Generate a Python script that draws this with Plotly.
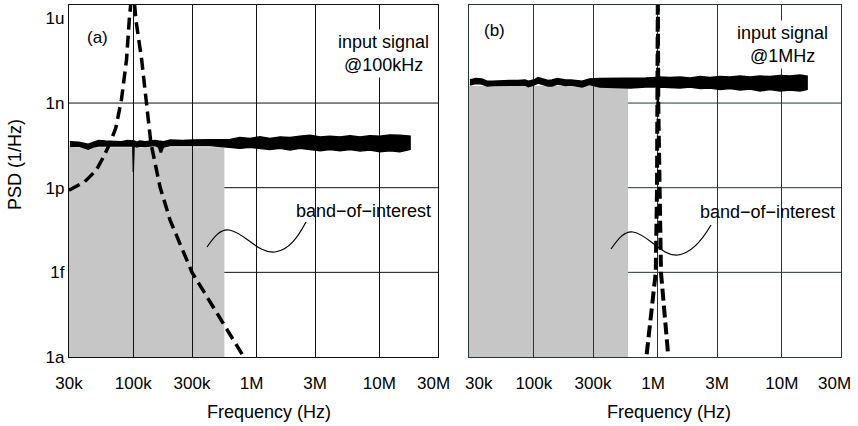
import plotly.graph_objects as go

# ---------------- data ----------------
x_tickvals = [3e4, 1e5, 3e5, 1e6, 3e6, 1e7, 3e7]
x_ticktext_a = ["30k", "100k", "300k", "1M\u00a0\u00a0", "3M", "10M", ""]
x_ticktext_b = ["", "100k", "300k", "1M\u00a0\u00a0", "3M", "10M", ""]
edge_label_a = "30M"
edge_label_b_left = "30k"
edge_label_b_right = "30M"
y_tickvals = [1e-18, 1e-15, 1e-12, 1e-9, 1e-6]
y_ticktext = ["1a", "1f", "1p", "1n", "1u"]
y_gridvals = [1e-15, 1e-12, 1e-9]

band_start = 3e4
band_edge_a = 5.5e5
band_top_a = 2.7e-11
band_edge_b = 5.75e5
band_top_b = 4.0e-9

# (a) measured output PSD envelope, input @100kHz
freq_a = [30.5e3, 36e3, 43e3, 47e3, 52e3, 59e3, 71e3, 80e3, 90e3, 97e3, 99e3, 100e3, 101.5e3,
          107e3, 113e3, 125e3, 137e3, 150e3, 160e3, 165e3, 170e3, 176e3, 200e3, 250e3, 306e3,
          420e3, 611e3, 736e3, 889e3, 1.07e6, 1.29e6, 1.56e6, 1.88e6, 2.26e6, 2.73e6, 3.30e6,
          3.97e6, 4.79e6, 5.78e6, 6.97e6, 8.40e6, 10.1e6, 12.2e6, 14.7e6, 17.8e6]
upper_a = [4.3e-11, 4.1e-11, 3.5e-11, 4.1e-11, 4.7e-11, 4.5e-11, 4.5e-11, 4.3e-11, 4.7e-11, 4.5e-11,
           4.5e-11, 4.5e-11, 4.5e-11, 4.1e-11, 4.5e-11, 4.3e-11, 4.5e-11, 4.7e-11, 4.5e-11, 4.5e-11,
           4.5e-11, 4.3e-11, 4.9e-11, 4.7e-11, 4.9e-11, 5.1e-11, 5.14e-11, 6.05e-11, 5.57e-11,
           6.35e-11, 5.57e-11, 6.35e-11, 6.05e-11, 6.73e-11, 7.3e-11, 6.35e-11, 6.73e-11, 6.35e-11,
           6.9e-11, 6.35e-11, 6.9e-11, 6.73e-11, 7.48e-11, 7.3e-11, 6.73e-11]
lower_a = [2.85e-11, 3.0e-11, 2.3e-11, 2.75e-11, 3.0e-11, 3.1e-11, 3.0e-11, 3.0e-11, 3.1e-11, 3.0e-11,
           3.0e-11, 3.6e-12, 3.0e-11, 2.75e-11, 3.0e-11, 2.85e-11, 3.0e-11, 3.1e-11, 2.75e-11, 1.83e-11,
           1.83e-11, 2.75e-11, 3.1e-11, 3.1e-11, 3.2e-11, 3.1e-11, 2.68e-11, 2.47e-11, 2.68e-11,
           2.47e-11, 2.27e-11, 2.47e-11, 2.15e-11, 2.47e-11, 2.27e-11, 2.03e-11, 2.27e-11, 2.03e-11,
           2.27e-11, 1.98e-11, 2.15e-11, 1.87e-11, 2.03e-11, 1.87e-11, 2.27e-11]

# (a) estimated input tone PSD (dashed)
tone_f_a = [30e3, 40e3, 50e3, 57e3, 64.6e3, 72e3, 80e3, 88e3, 92.7e3, 96e3, 100e3,
            105e3, 117e3, 128e3, 139e3, 165e3, 199e3, 300e3, 766e3]
tone_p_a = [8.2e-13, 1.58e-12, 4.2e-12, 1.2e-11, 3.8e-11, 1.3e-10, 1.28e-9, 3.35e-8, 8.8e-7, 4.5e-6, 1e-5,
            8.8e-7, 3.35e-8, 1.28e-9, 3.8e-11, 1.05e-12, 7.1e-14, 1.0e-15, 1.26e-18]

# (b) measured output PSD envelope, input @1MHz
freq_b = [30.5e3, 34e3, 38e3, 42e3, 47e3, 55e3, 64e3, 75e3, 85e3, 90e3, 100e3, 108e3, 120e3, 130e3,
          140e3, 155e3, 180e3, 200e3, 245e3, 280e3, 340e3, 450e3, 600e3, 800e3, 980e3, 1.0e6, 1.02e6,
          1.25e6, 1.51e6, 1.82e6, 2.19e6, 2.63e6, 3.17e6, 3.82e6, 4.60e6, 5.54e6, 6.67e6, 8.02e6,
          9.66e6, 11.6e6, 14.0e6, 16.0e6]
upper_b = [6.55e-9, 7.4e-9, 7.1e-9, 6.0e-9, 6.0e-9, 6.3e-9, 6.3e-9, 6.3e-9, 6.55e-9, 6.0e-9, 6.55e-9,
           8.0e-9, 6.8e-9, 6.3e-9, 6.55e-9, 7.4e-9, 6.55e-9, 6.55e-9, 6.0e-9, 7.1e-9, 7.4e-9, 7.4e-9,
           7.7e-9, 7.7e-9, 8.0e-9, 8.35e-9, 8.35e-9,
           8.03e-9, 8.37e-9, 7.71e-9, 8.72e-9, 8.03e-9, 8.72e-9, 8.37e-9, 9.08e-9, 8.37e-9, 9.08e-9,
           8.72e-9, 9.46e-9, 9.08e-9, 9.85e-9, 9.08e-9]
lower_b = [4.35e-9, 4.9e-9, 4.7e-9, 4.0e-9, 4.2e-9, 4.35e-9, 4.35e-9, 4.35e-9, 4.35e-9, 3.8e-9, 4.35e-9,
           5.1e-9, 4.35e-9, 4.0e-9, 4.0e-9, 4.7e-9, 4.2e-9, 4.35e-9, 3.7e-9, 4.5e-9, 3.7e-9, 3.55e-9,
           3.4e-9, 3.7e-9, 3.7e-9, 3.75e-10, 3.7e-9,
           3.55e-9, 3.41e-9, 3.70e-9, 3.27e-9, 3.41e-9, 3.02e-9, 3.27e-9, 2.90e-9, 3.14e-9, 2.67e-9,
           3.02e-9, 2.67e-9, 2.90e-9, 2.67e-9, 3.02e-9]

# (b) estimated input tone PSD (dashed)
tone_f_b = [813e3, 962e3, 985e3, 995e3, 1.0e6, 1.008e6, 1.025e6, 1.06e6, 1.21e6]
tone_p_b = [1.26e-18, 1.0e-15, 1.0e-12, 1.0e-9, 1e-5, 1.0e-9, 1.0e-12, 1.0e-15, 1.26e-18]

# ---------------- layout geometry ----------------
W, H = 858, 426
ML, MR, MT, MB = 69, 17, 5, 69
PW = W - ML - MR
PH = H - MT - MB


def px(x):
    return (x - ML) / PW


def py(y):
    return (H - MB - y) / PH


FONT = "Liberation Sans, Arial, sans-serif"
GRID_A = "#111111"
GRID_B = "#263636"
fig = go.Figure()


def envelope(f, up, lo, xa, ya):
    fig.add_trace(go.Scatter(
        x=f + f[::-1], y=up + lo[::-1], mode="lines", fill="toself",
        fillcolor="black", line=dict(color="black", width=1.4),
        xaxis=xa, yaxis=ya, showlegend=False, hoverinfo="skip"))


envelope(freq_a, upper_a, lower_a, "x", "y")
fig.add_trace(go.Scatter(x=tone_f_a, y=tone_p_a, mode="lines",
                         line=dict(color="black", width=3.5, dash="12px,6px"),
                         xaxis="x", yaxis="y", showlegend=False))
envelope(freq_b, upper_b, lower_b, "x2", "y2")
fig.add_trace(go.Scatter(x=tone_f_b, y=tone_p_b, mode="lines",
                         line=dict(color="black", width=4, dash="12px,5px"),
                         xaxis="x2", yaxis="y2", showlegend=False))

shapes = []
# band of interest
shapes.append(dict(type="rect", xref="x", yref="y", x0=band_start, x1=band_edge_a,
                   y0=1e-18, y1=band_top_a, fillcolor="#c6c6c6", line=dict(width=0), layer="below"))
shapes.append(dict(type="rect", xref="x2", yref="y2", x0=band_start, x1=band_edge_b,
                   y0=1e-18, y1=band_top_b, fillcolor="#c6c6c6", line=dict(width=0), layer="below"))
# horizontal grid lines
for g in y_gridvals:
    shapes.append(dict(type="line", xref="x domain", yref="y", x0=0, x1=1, y0=g, y1=g,
                       line=dict(color=GRID_A, width=1), layer="below"))
    shapes.append(dict(type="line", xref="x2 domain", yref="y2", x0=0, x1=1, y0=g, y1=g,
                       line=dict(color=GRID_B, width=1), layer="below"))


def wave(p0, c1, c2, p1, c3, c4, p2, c5, c6, p3):
    pts = [p0, c1, c2, p1, c3, c4, p2, c5, c6, p3]
    s = [f"{px(a):.5f},{py(b):.5f}" for a, b in pts]
    return f"M {s[0]} C {s[1]} {s[2]} {s[3]} C {s[4]} {s[5]} {s[6]} C {s[7]} {s[8]} {s[9]}"


shapes.append(dict(type="path", xref="paper", yref="paper",
                   path=wave((207, 247), (214, 237), (220, 229), (229, 230), (244, 232), (258, 254),
                             (275, 252), (290, 250), (299, 235), (306, 222)),
                   line=dict(color="black", width=1.2)))
shapes.append(dict(type="path", xref="paper", yref="paper",
                   path=wave((611, 249), (618, 239), (624, 231), (633, 232), (648, 234), (662, 257),
                             (678, 255), (693, 253), (704, 237), (711, 225)),
                   line=dict(color="black", width=1.2)))

ann = []


def text(t, x, y, size=18, rot=0, bg=None):
    d = dict(text=t, x=px(x), y=py(y), xref="paper", yref="paper", showarrow=False,
             xanchor="center", yanchor="middle", textangle=rot,
             font=dict(family=FONT, size=size, color="black"))
    if bg:
        d.update(bgcolor=bg, borderpad=2)
    ann.append(d)


text("(a)", 97, 37, 17)
text("input signal<br>@100kHz", 383, 54, 18, bg="white")
text("(b)", 495, 31, 17)
text("input signal<br>@1MHz", 782, 44, 18, bg="white")
text("band\u2212of\u2212interest", 363, 211, 18)
text("band\u2212of\u2212interest", 767, 212, 18)
text("Frequency (Hz)", 269, 412, 18)
text("Frequency (Hz)", 669, 412, 18)
text("PSD (1/Hz)", 15, 165, 18, -90)
text(edge_label_a, 433, 383, 17)
text(edge_label_b_left, 479, 383, 17)
text(edge_label_b_right, 834, 383, 17)

xr = [4.47712, 7.47712]
yr = [-18, -5.525]
common_x = dict(type="log", range=xr, tickvals=x_tickvals, showgrid=True, gridwidth=1,
                showline=True, mirror=True, linewidth=1.3, ticks="", zeroline=False,
                tickfont=dict(family=FONT, size=17, color="black"), ticklabelstandoff=10)
common_y = dict(type="log", range=yr, tickvals=y_tickvals, ticktext=y_ticktext, showgrid=False,
                showline=True, mirror=True, linewidth=1.3, ticks="", zeroline=False,
                tickfont=dict(family=FONT, size=17, color="black"))

fig.update_layout(
    width=W, height=H, margin=dict(l=ML, r=MR, t=MT, b=MB),
    paper_bgcolor="white", plot_bgcolor="white",
    xaxis=dict(common_x, domain=[0, 369 / PW], ticktext=x_ticktext_a, gridcolor=GRID_A,
               linecolor=GRID_A, anchor="y"),
    xaxis2=dict(common_x, domain=[400 / PW, 1], ticktext=x_ticktext_b, gridcolor=GRID_B,
                linecolor=GRID_B, anchor="y2"),
    yaxis=dict(common_y, linecolor=GRID_A, anchor="x"),
    yaxis2=dict(common_y, linecolor=GRID_B, anchor="x2", showticklabels=False),
    shapes=shapes, annotations=ann, showlegend=False,
)

fig.write_html("out.html")
